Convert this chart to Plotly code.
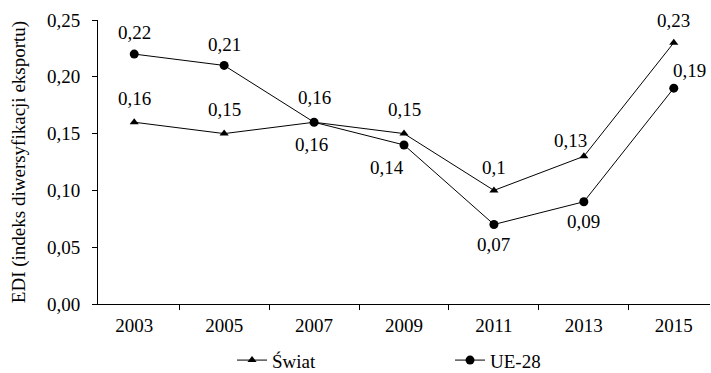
import plotly.graph_objects as go

years = ["2003", "2005", "2007", "2009", "2011", "2013", "2015"]
swiat = [0.16, 0.15, 0.16, 0.15, 0.10, 0.13, 0.23]
ue28 = [0.22, 0.21, 0.16, 0.14, 0.07, 0.09, 0.19]
y_ticks = [0.00, 0.05, 0.10, 0.15, 0.20, 0.25]

# label offsets (px) from each point, to keep labels clear of the lines
swiat_shift = [(0, 24), (0, 24), (0, 25), (0, 24), (0, 23), (-13, 16), (0, 22)]
ue28_shift = [(0, 22), (0, 21), (-3, -22), (-17, -23), (0, -20), (0, -20), (16, 18)]


def fmt(v):
    s = ("%.2f" % v).rstrip("0")
    return s.replace(".", ",")


font = dict(family="Times New Roman, Liberation Serif, serif", size=19, color="black")

fig = go.Figure()
fig.add_trace(go.Scatter(
    x=years, y=swiat, name="Świat", mode="lines+markers",
    line=dict(color="black", width=1),
    marker=dict(symbol="triangle-up", size=8, color="black"),
))
fig.add_trace(go.Scatter(
    x=years, y=ue28, name="UE-28", mode="lines+markers",
    line=dict(color="black", width=1),
    marker=dict(symbol="circle", size=9, color="black"),
))

# value labels; on a category axis annotations take the category index
for vals, shifts in ((swiat, swiat_shift), (ue28, ue28_shift)):
    for i, (v, (dx, dy)) in enumerate(zip(vals, shifts)):
        fig.add_annotation(
            x=i, y=v, text=fmt(v), showarrow=False,
            xanchor="center", yanchor="middle",
            xshift=dx, yshift=dy, font=font,
        )

fig.update_layout(
    width=711, height=373,
    margin=dict(l=98, r=1, t=20, b=69, autoexpand=False),
    paper_bgcolor="white", plot_bgcolor="white",
    font=font,
    showlegend=True,
    legend=dict(
        orientation="h", xref="paper", yref="paper",
        x=0.219, xanchor="left", y=-0.198, yanchor="middle",
        entrywidth=173, entrywidthmode="pixels",
        font=font, bgcolor="rgba(0,0,0,0)",
    ),
    xaxis=dict(
        type="category", categoryorder="array", categoryarray=years,
        showgrid=False, showline=True, linecolor="black",
        linewidth=1, ticks="outside", tickson="boundaries", ticklen=5,
        tickcolor="black", tickfont=font, zeroline=False,
        ticklabelstandoff=4, tickangle=0,
    ),
    yaxis=dict(
        range=[0, 0.25], tickvals=y_ticks,
        ticktext=[("%.2f" % v).replace(".", ",") for v in y_ticks],
        showgrid=False, showline=True, linecolor="black", linewidth=1,
        ticks="outside", ticklen=5, tickcolor="black", tickfont=font,
        zeroline=False, ticklabelstandoff=8,
        title=dict(text="EDI (indeks diwersyfikacji eksportu)", font=font, standoff=16),
    ),
)

fig.write_html("out.html")
